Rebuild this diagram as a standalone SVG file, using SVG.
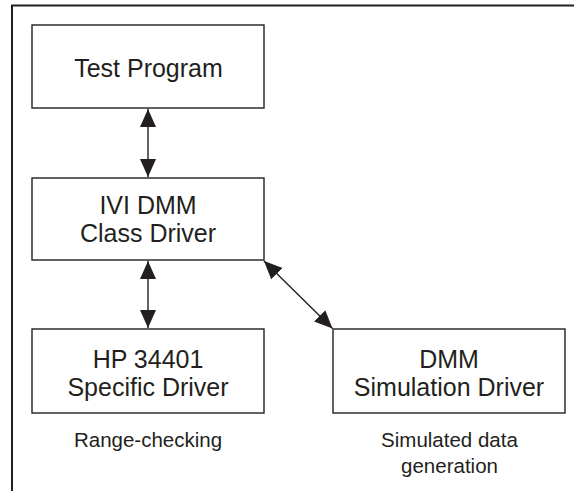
<svg xmlns="http://www.w3.org/2000/svg" width="574" height="491" viewBox="0 0 574 491">
<style>
.box{fill:#fff;stroke:#231f20;stroke-width:1.4}
.t{font-family:"Liberation Sans",Arial,sans-serif;font-size:25px;fill:#231f20;text-anchor:middle}
.s{font-family:"Liberation Sans",Arial,sans-serif;font-size:20.5px;fill:#231f20;text-anchor:middle}
.c{stroke:#231f20;stroke-width:1.4;fill:none}
</style>
<defs>
<marker id="ah" markerUnits="userSpaceOnUse" markerWidth="20" markerHeight="16" refX="18" refY="8" orient="auto-start-reverse" viewBox="0 0 20 16">
<path d="M0,0 L18,8 L0,16 Z" fill="#231f20"/>
</marker>
</defs>
<rect width="574" height="491" fill="#fff"/>
<g id="frame">
<path d="M12,491 V5.5 H574" fill="none" stroke="#231f20" stroke-width="2"/>
</g>
<g id="connectors">
<line class="c" x1="148" y1="109" x2="148" y2="177" marker-start="url(#ah)" marker-end="url(#ah)"/>
<line class="c" x1="148" y1="261" x2="148" y2="328" marker-start="url(#ah)" marker-end="url(#ah)"/>
<line class="c" x1="264" y1="261" x2="332.5" y2="328.5" marker-start="url(#ah)" marker-end="url(#ah)"/>
</g>
<g id="test-program">
<rect class="box" x="32" y="25" width="232" height="83"/>
<text class="t" x="148.5" y="77">Test Program</text>
</g>
<g id="class-driver">
<rect class="box" x="32" y="178" width="232" height="82"/>
<text class="t" x="148" y="214">IVI DMM</text>
<text class="t" x="148" y="242">Class Driver</text>
</g>
<g id="specific-driver">
<rect class="box" x="32" y="329" width="232" height="84"/>
<text class="t" x="148" y="368">HP 34401</text>
<text class="t" x="148" y="396">Specific Driver</text>
<text class="s" x="148" y="447">Range-checking</text>
</g>
<g id="simulation-driver">
<rect class="box" x="333" y="329" width="232" height="84"/>
<text class="t" x="449" y="368">DMM</text>
<text class="t" x="449" y="396">Simulation Driver</text>
<text class="s" x="449.5" y="447">Simulated data</text>
<text class="s" x="449.5" y="473">generation</text>
</g>
</svg>
